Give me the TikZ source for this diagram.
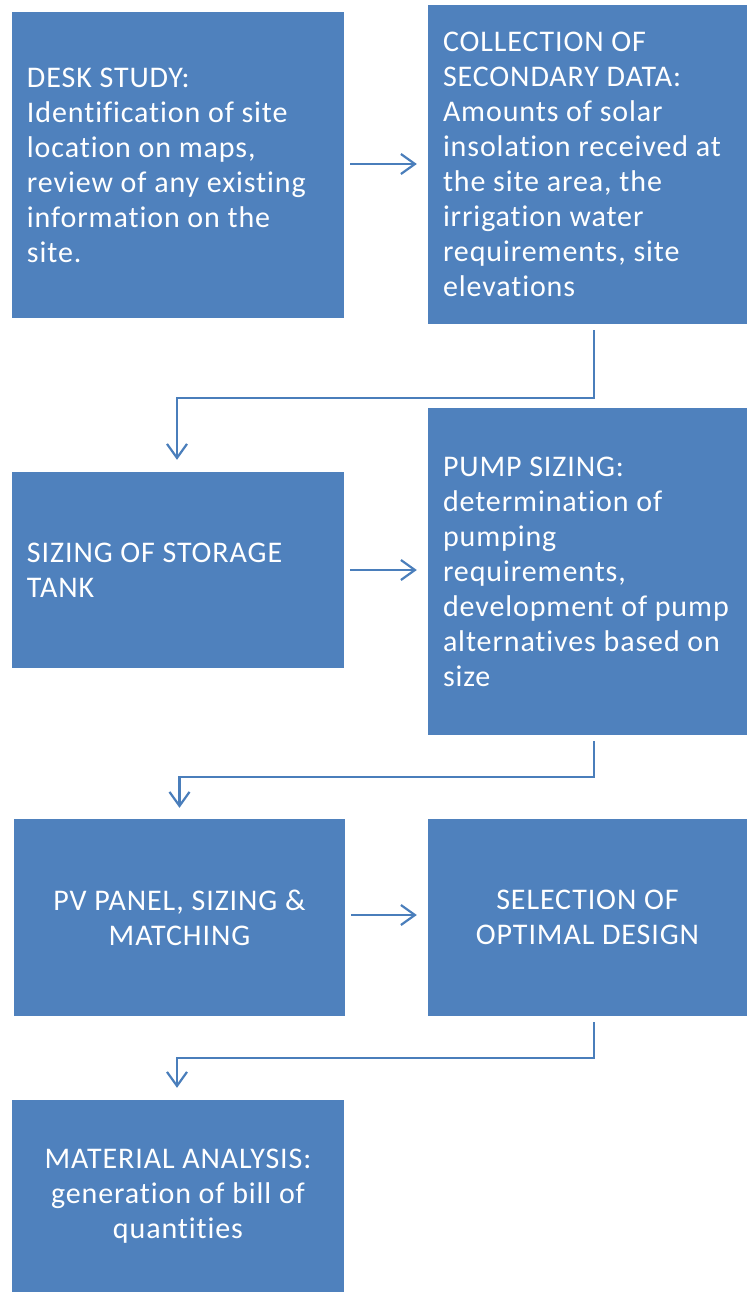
\documentclass[tikz,border=0pt]{standalone}
\usepackage{fontspec}
\setmainfont{Carlito}[LetterSpace=3,Ligatures=NoCommon]
\usetikzlibrary{arrows.meta}
\definecolor{boxblue}{HTML}{4F81BD}
\definecolor{lineblue}{HTML}{4A7EBB}
\tikzset{
  box/.style={draw=none, fill=boxblue, text=white, inner sep=0pt,
    font=\fontsize{30}{35}\selectfont},
  txt/.style={text=white, inner sep=0pt, anchor=west, align=left,
    font=\fontsize{30}{35}\selectfont},
  midbox/.style={box, align=center},
  arr/.style={draw=lineblue, line width=2.2pt,
    -{Straight Barb[length=14pt,width=20pt,line width=2.2pt]}}
}
\begin{document}
\begin{tikzpicture}[x=1pt,y=-1pt]
\useasboundingbox (0,0) rectangle (747,1292);
\node[box, minimum width=332, minimum height=306] (b1) at (178,165) {};
\node[txt] (t1) at ([xshift=15pt]b1.west)
  {DESK STUDY:\\ Identification of site\\ location on maps,\\ review of any existing\\ information on the\\ site.};
\node[box, minimum width=319, minimum height=319] (b2) at (587.5,164.5) {};
\node[txt] (t2) at ([xshift=15pt]b2.west)
  {COLLECTION OF\\ SECONDARY DATA:\\ Amounts of solar\\ insolation received at\\ the site area, the\\ irrigation water\\ requirements, site\\ elevations};
\node[box, minimum width=332, minimum height=196] (b3) at (178,570) {};
\node[txt] (t3) at ([xshift=15pt]b3.west)
  {SIZING OF STORAGE\\ TANK};
\node[box, minimum width=319, minimum height=327] (b4) at (587.5,571.5) {};
\node[txt] (t4) at ([xshift=15pt]b4.west)
  {PUMP SIZING:\\ determination of\\ pumping\\ requirements,\\ development of pump\\ alternatives based on\\ size};
\node[midbox, minimum width=331, minimum height=197] (b5) at (179.5,917.5)
  {PV PANEL, SIZING \&\\ MATCHING};
\node[midbox, minimum width=319, minimum height=197] (b6) at (587.5,917.5)
  {SELECTION OF\\ OPTIMAL DESIGN};
\node[midbox, minimum width=332, minimum height=192] (b7) at (178,1196)
  {MATERIAL ANALYSIS:\\ generation of bill of\\ quantities};

\draw[arr] ([xshift=6pt,yshift=1pt]b1.east) -- ([xshift=-11pt,yshift=1pt]b1.east -| b2.west);
\draw[arr] ([xshift=6pt]b3.east) -- ([xshift=-11pt]b3.east -| b4.west);
\draw[arr] ([xshift=6pt,yshift=2.5pt]b5.east) -- ([xshift=-11pt,yshift=2.5pt]b5.east -| b6.west);

\draw[arr] ([xshift=6.5pt,yshift=-6pt]b2.south) -- ++(0,68) -| ([xshift=-1pt,yshift=12pt]b3.north);
\draw[arr] ([xshift=6.5pt,yshift=-6pt]b4.south) -- ++(0,36) -| ([yshift=11pt]b5.north);
\draw[arr] ([xshift=6.5pt,yshift=-6pt]b6.south) -- ++(0,36) -| ([xshift=-1pt,yshift=12pt]b7.north);
\end{tikzpicture}
\end{document}
